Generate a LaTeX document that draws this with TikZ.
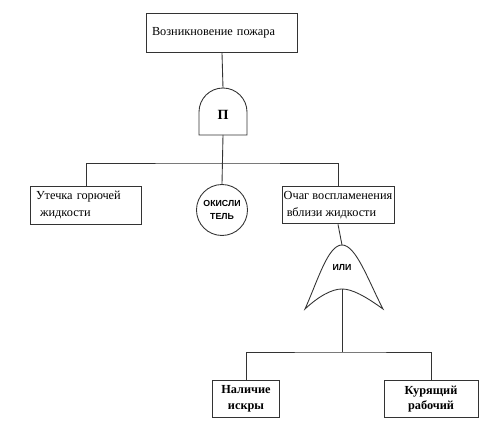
\documentclass[tikz,border=0pt]{standalone}
\usepackage{fontspec}
\setmainfont{Liberation Serif}
\newfontfamily\gatefont{Liberation Sans}
\usetikzlibrary{positioning}

\begin{document}
\begin{tikzpicture}[
			x=0.02cm,y=-0.02cm,
			eventbox/.style={
				draw=black!80,
				line width=0.5pt,
				fill=white,
				inner sep=3pt,
				font=\fontsize{7}{9.5}\selectfont
			},
			basicbox/.style={
				eventbox,
				align=center,
				font=\fontsize{7}{9}\selectfont\bfseries
			},
			gateline/.style={
				draw=black!80,
				line width=0.5pt
			},
			tree/.style={
				draw=black!80,
				line width=0.5pt
			}
			]
			\useasboundingbox (0,0) rectangle (495,435);
			
			% top event
			\node[eventbox,minimum width=3.02cm,minimum height=0.78cm,
			text width=2.8cm,align=left] (fire) at (222,33) {Возникновение пожара};
			
			% AND gate
			\node[font=\fontsize{8}{9}\selectfont\bfseries] (andgate) at (223,115) {П};
			\draw[gateline] (199,135) -- (199,112) arc[start angle=180,end angle=360,radius=24]
			-- (247,135) -- cycle;
			\coordinate (andtop) at (223,88);
			\coordinate (andbot) at (223,135);
			
			% second level
			\node[eventbox,minimum width=2.2cm,minimum height=0.74cm,
			text width=2cm,align=left] (leak) at (86,205) {Утечка горючей\\\ жидкости};
			\node[draw=black!80,line width=0.5pt,circle,minimum size=1.02cm,inner sep=0pt,
			align=center,font=\gatefont\fontsize{5}{7}\selectfont\bfseries] (oxid) at (222,210) {ОКИСЛИ\\ТЕЛЬ};
			\node[eventbox,inner xsep=1pt,minimum width=2.22cm,minimum height=0.74cm,
			align=left] (ignit) at (338,205) {Очаг воспламенения\\\ вблизи жидкости};
			
			% OR gate
			\node[font=\gatefont\fontsize{5}{7}\selectfont\bfseries] (orgate) at (342,268) {ИЛИ};
			\draw[gateline] (305,309) .. controls (318,280) and (328,245) .. (342,245)
			.. controls (356,245) and (368,280) .. (383,309)
			.. controls (365,296) and (352,289) .. (342,289)
			.. controls (332,289) and (319,296) .. (305,309) -- cycle;
			\coordinate (ortop) at (342,245);
			\coordinate (orbot) at (342,289);
			
			% basic events
			\node[basicbox,minimum width=1.34cm,minimum height=0.68cm] (spark) at (246,399) {Наличие\\искры};
			\node[basicbox,minimum width=1.88cm,minimum height=0.68cm] (smoker) at (431,399) {Курящий\\рабочий};
			
			% connectors
			\draw[tree] (fire.south) -- (andtop);
			\draw[tree] (andbot) -- (oxid.north);
			\draw[tree] (leak.north) |- (223,163) -| (ignit.north);
			\draw[tree] (ignit.south) -- (ortop);
			\draw[tree] (orbot) -- (342,352);
			\draw[tree] (spark.north) |- (342,352) -| (smoker.north);
			
		\end{tikzpicture}
\end{document}
